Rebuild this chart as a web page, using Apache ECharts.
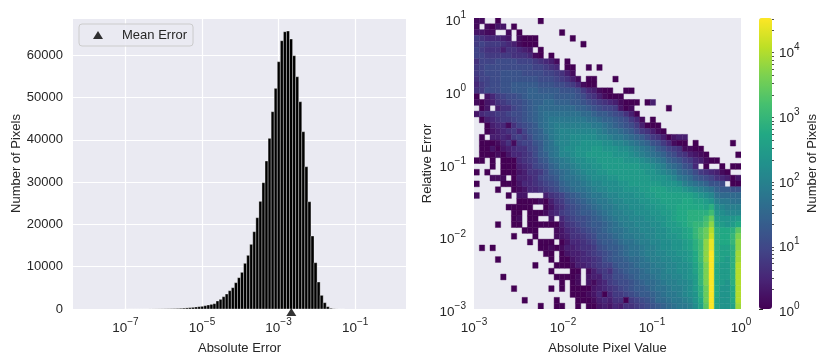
<!DOCTYPE html>
<html><head><meta charset="utf-8">
<style>html,body{margin:0;padding:0;background:#fff}#c{width:830px;height:364px}</style>
<script src="https://cdn.jsdelivr.net/npm/echarts@6/dist/echarts.min.js"></script>
</head><body><div id="c"></div>
<script>
// Left panel: histogram of absolute error (bins in log10 units)
const histFirstEdge = -7.033;
const histBinWidth = 0.08;
const histCounts = [
  1,1,2,2,3,4,5,7,10,14,19,26,35,46,60,78,100,130,165,210,260,320,390,470,
  552,630,788,946,1100,1260,1890,2285,2915,3546,4334,5043,6225,7407,8668,10800,12690,15290,18280,21590,
  25450,29870,34990,40350,46650,52170,58470,63430,65560,65720,63830,59890,54920,49010,41920,33650,25370,17260,
  10950,6380,3230,1500,550,160,40,10,3,1
];
const meanError = -2.666;
const leftXTicks = [-7,-5,-3,-1];
const leftYTicks = [0,10000,20000,30000,40000,50000,60000];

// Right panel: 2D histogram. One char per cell, '.' = empty, base-36 digit = level of log10(count)
const levelStep = 0.128;
const heatRows = [
"11..0..... ..0....... .......... .......... ..........",
"1.1022.0.. .......... .......... .......... ..........",
"2211..1.0. ......0... .......... .......... ..........",
"6544432.10 00......0. .......... .......... ..........",
"6766654310 00........ 0......... .......... ..........",
"7655535543 2.0....... .......... .......... ..........",
"7766666555 410.0..... .......... .......... ..........",
"5777888877 765431.0.. .......... .......... ..........",
"6788888888 877654.00. .0.0...... .......... ..........",
"6788899998 888776531. .......... .......... ..........",
"5778899999 9988876531 .00...0... .......... ..........",
"4678899aaa aa99988764 100....... .......... ..........",
"5688899aaa bbaaaa9998 643100..00 .......... ..........",
"0.2467889a bbbbbaaaa9 86531000.. .......... ..........",
"1023567889 abbccbbbaa 9876543100 0.03...... ..........",
".02.355789 abcccccccb ba98776201 ......0... ..........",
"2455667889 abcddddddd ccbaa98753 0......... ..........",
".034566789 abcdeeeeee eddcbba986 41.0...... ..........",
"..03441578 9acdefffff ffeedcba98 63000..... ..........",
"..02345647 9abdefgggg gggfeddcba 865310.... ..........",
".0.3343676 8abcefgghh hhhggfeedc ba86530233 ..........",
".000135167 79acdfgghh iiiihhggfe dcb9864100 .0......0.",
".002023455 78acdeghhi iijjiiihhg fedca97651 100.......",
".000102445 68abdegghi ijjjjjiiih gfedcb9865 3210.....0",
"00.0.00045 679acdefgh hiijjjjjii ihgfedba97 643100....",
"...0.00034 5789bceefg hhiijjjjjj jiihgfdcb9 84.0..0.00",
"0.0..00023 5568abcdef ghhiijjjjj jjiihgfecb a8654310..",
"...111.033 45789acdde fghhhiijjj jjjiiihged ca98754302",
"0....00024 456789bcdd efgghhhiij jjjjjiiihf edcb998.00",
"....0..012 445678abcd defgghhhii ijjkkkjjji hgfedbaa99",
"1.....0.22 ...35679ab cdeefgghhh iijjkkkkkk kjihgdcccc",
"........00 001035689a bcdeefgghh hiijjkkkkl lkkjifeedd",
"......0000 0..0245789 abcdeefggh hhiijjkkll lllkmhgfff",
".......00. 0001346789 aabcdeffgg hhhiijjkll mmmmoihggg",
".......01. 00..2.4678 89abcdeffg gghhiijkll mmmorjiiij",
"....0..00. 0000003567 89aabcdeff ggghhijjkl mnnptkjijl",
".........0 00...12456 789abcddef fggghhijjk lnprvmllmq",
".......0.. .0...12355 678aabcdee ffgghhiijk lnprwmllns",
".......... 0.000.0244 5679aabcdd effgghhiij kmotymllnt",
".0.0...... ..00101334 55689aabcd deffghhiij kmotymkkmt",
".......... ...00.0233 456789abcd deffgghhii jlotzmkkmu",
"....0..... ....0.0023 445689aabc cdeffgghhi jlotzmkjmu",
".......... .0...00013 3456779aab cddeffgghh iknszljjmv",
".......... ....0...00 .135658 9ab bcdeefgghh iknszljjmv",
".....0.... .....00001 .23366889a bccdeffggh ijnszljjmv",
".......... ......0.01 .213467889 abccdeffgg hjnszljimv",
".......0.. ....0.0.00 0023456789 aabcddeffg hjmrzliilv",
".......... ........00 0124046678 9aabcdeefg himrzliilv",
".........0 .....0...0 0013435506 789accdeef gilrzkiilv",
".......... ..0..00..0 .002324355 6789abcdee fhkqzkiiku"
];
const heatXStart = -3, heatXStep = 0.06;
const heatYStart = 1, heatYStep = 0.08;
const rightXTicks = [-3,-2,-1,0];
const rightYTicks = [-3,-2,-1,0,1];
const cbarMax = 4.49;
const cbarTicks = [0,1,2,3,4];
const cbarMinorMultipliers = [2,3,4,5,6,7,8,9];
const viridis = ['#440154','#482475','#414487','#355f8d','#2a788e','#21918c','#22a884','#44bf70','#7ad151','#bddf26','#fde725'];

const histData = histCounts.map((n,i)=>[histFirstEdge+i*histBinWidth, histFirstEdge+(i+1)*histBinWidth, n]);
const heatData = [];
heatRows.forEach((row,r)=>{
  row.replace(/ /g,'').split('').forEach((ch,c)=>{
    if(ch==='.') return;
    heatData.push([heatXStart+c*heatXStep, heatXStart+(c+1)*heatXStep,
                   heatYStart-r*heatYStep, heatYStart-(r+1)*heatYStep, parseInt(ch,36)*levelStep]);
  });
});
const cbarMinor = [];
[-1,0,1,2,3,4].forEach(d=>cbarMinorMultipliers.forEach(m=>{
  const v=d+Math.log10(m); if(v>0&&v<cbarMax) cbarMinor.push(v);
}));

const FONT='"Liberation Sans", Arial, sans-serif', TXT='#262626', FS=13;
const rich={b:{fontFamily:FONT,fontSize:13.5,color:TXT,lineHeight:20,padding:[7,0,0,0]},
            s:{fontFamily:FONT,fontSize:10,color:TXT,lineHeight:20,padding:[0,0,5,0]}};
const powLabel=v=>'{b|10}{s|'+String(v).replace('-','\u2212')+'}';
const nameSt={fontFamily:FONT,fontSize:FS,color:TXT};

const chart=echarts.init(document.getElementById('c'),null,{renderer:'canvas'});
chart.setOption({
  animation:false,
  backgroundColor:'#fff',
  grid:[
    {left:73,top:18,width:333,height:291,show:true,backgroundColor:'#eaeaf2',borderWidth:0},
    {left:474,top:18,width:267,height:291,show:true,backgroundColor:'#eaeaf2',borderWidth:0},
    {left:759,top:18,width:13,height:291,show:false}
  ],
  xAxis:[
    {type:'value',gridIndex:0,min:-8.37,max:0.33,name:'Absolute Error',nameLocation:'middle',nameGap:33,nameTextStyle:nameSt,
     axisLine:{show:false},axisTick:{show:false,customValues:leftXTicks},
     axisLabel:{customValues:leftXTicks,formatter:powLabel,rich:rich,margin:6},
     splitLine:{show:true,lineStyle:{color:'#fff',width:1.2}}},
    {type:'value',gridIndex:1,min:-3,max:0,interval:1,name:'Absolute Pixel Value',nameLocation:'middle',nameGap:33,nameTextStyle:nameSt,
     axisLine:{show:false},axisTick:{show:false},
     axisLabel:{formatter:powLabel,rich:rich,margin:6,customValues:rightXTicks},splitLine:{show:false}},
    {type:'value',gridIndex:2,min:0,max:1,show:false}
  ],
  yAxis:[
    {type:'value',gridIndex:0,min:0,max:68800,interval:10000,name:'Number of Pixels',nameLocation:'middle',nameGap:49,nameTextStyle:nameSt,
     axisLine:{show:false},axisTick:{show:false},
     axisLabel:{fontFamily:FONT,fontSize:13,color:TXT,margin:10,customValues:leftYTicks,formatter:v=>String(v)},
     splitLine:{show:true,lineStyle:{color:'#fff',width:1.2}}},
    {type:'value',gridIndex:1,min:-3,max:1,interval:1,name:'Relative Error',nameLocation:'middle',nameGap:40,nameTextStyle:nameSt,
     axisLine:{show:false},axisTick:{show:false},
     axisLabel:{formatter:powLabel,rich:rich,margin:8,customValues:rightYTicks},splitLine:{show:false}},
    {type:'value',gridIndex:2,position:'right',min:0,max:cbarMax,name:'Number of Pixels',nameLocation:'middle',nameGap:34,nameRotate:90,nameTextStyle:nameSt,
     axisLine:{show:false},axisTick:{show:true,length:4,lineStyle:{color:TXT,width:1},customValues:cbarTicks},
     axisLabel:{formatter:powLabel,rich:rich,margin:7,customValues:cbarTicks},splitLine:{show:false}},
    {type:'value',gridIndex:2,position:'right',min:0,max:cbarMax,
     axisLine:{show:false},axisTick:{show:true,length:2,lineStyle:{color:TXT,width:0.8},customValues:cbarMinor},
     axisLabel:{show:false},splitLine:{show:false}}
  ],
  visualMap:{type:'continuous',seriesIndex:2,dimension:4,min:0,max:cbarMax,left:759,top:18,itemWidth:13,itemHeight:291,
    padding:0,calculable:false,text:null,showLabel:false,hoverLink:false,inRange:{color:viridis}},
  legend:{left:79,top:24,padding:[4,6,4,14],backgroundColor:'rgba(234,234,242,0.85)',borderColor:'#cccccc',borderWidth:1,borderRadius:3,
    itemWidth:10,itemHeight:8,icon:'triangle',data:['Mean Error'],
    textStyle:{fontFamily:FONT,fontSize:FS,color:TXT,padding:[0,0,0,14],lineHeight:14}},
  series:[
    {type:'custom',xAxisIndex:0,yAxisIndex:0,silent:true,clip:true,data:histData,encode:{x:[0,1],y:2},
     renderItem:(p,api)=>{
       const a=api.coord([api.value(0),api.value(2)]),b=api.coord([api.value(1),0]);
       return {type:'rect',shape:{x:a[0],y:a[1],width:b[0]-a[0],height:b[1]-a[1]},
               style:{fill:'#000',stroke:'#fff',lineWidth:0.35}};
     }},
    {type:'scatter',name:'Mean Error',xAxisIndex:0,yAxisIndex:0,data:[[meanError,0]],symbol:'triangle',symbolSize:[10,8],symbolOffset:[0,3],
     itemStyle:{color:'#000'},clip:false,z:10},
    {type:'custom',xAxisIndex:1,yAxisIndex:1,silent:true,clip:true,data:heatData,encode:{x:[0,1],y:[2,3]},
     renderItem:(p,api)=>{
       const a=api.coord([api.value(0),api.value(2)]),b=api.coord([api.value(1),api.value(3)]);
       const col=api.visual('color');
       return {type:'rect',shape:{x:a[0],y:a[1],width:b[0]-a[0],height:b[1]-a[1]},style:{fill:col,stroke:col,lineWidth:0.4}};
     }}
  ]
});
</script></body></html>
